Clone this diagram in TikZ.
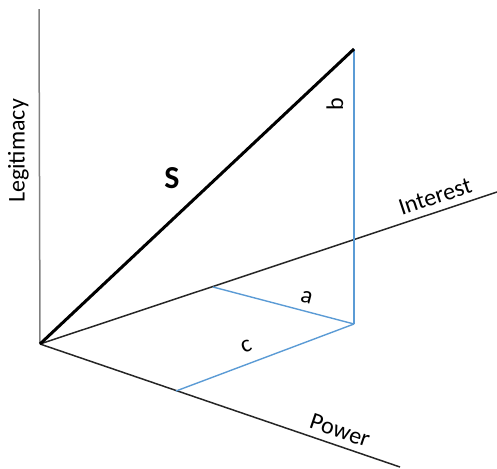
\documentclass[tikz,border=0pt]{standalone}
\usepackage{fontspec}
\setmainfont{Carlito}
\definecolor{partblue}{RGB}{91,155,213}
\usetikzlibrary{arrows}

\begin{document}
\begin{tikzpicture}[x=0.5pt, y=0.5pt,
				axis/.style={draw=black!85, line width=0.75pt},
				part/.style={draw=partblue, line width=0.7pt},
				font=\fontsize{12}{14}\selectfont]
				%Bildbereich
				\useasboundingbox (0,0) rectangle (497,468);
				% Punkte festlegen
				\coordinate (O) at (40,124);
				\coordinate (L) at (39,459);
				\coordinate (I) at (497,276);
				\coordinate (P) at (400,1);
				\coordinate (T) at (354,419);
				\coordinate (F) at (354,144);
				\coordinate (A) at (213,181);
				\coordinate (C) at (176,77);
				% Achsen zeichnen
				\draw[axis, draw=gray] (O) -- (L) node[pos=0.576, rotate=90, anchor=south, inner sep=5pt, black] (leg) {Legitimacy};
				\draw[axis] (O) -- (I) node[pos=0.875, sloped, above] (int) {Interest};
				\draw[axis] (O) -- (P) node[pos=0.82, sloped, above] (pow) {Power};
				% Komponenten zeichnen
				\draw[part] (F) -- (T) node[pos=0.8, rotate=90, anchor=south, inner sep=5pt] (b) {b};
				\draw[part] (A) -- (F) node[pos=0.64, sloped, above] (a) {a};
				\draw[part] (C) -- (F) node[pos=0.43, sloped, above=2pt] (c) {c};
				% Resultierende
				\draw[black, line width=1.5pt] (O) -- (T);
				\node[font=\fontsize{16}{18}\selectfont\bfseries] (s) at (172,290) {S};
			\end{tikzpicture}
\end{document}
